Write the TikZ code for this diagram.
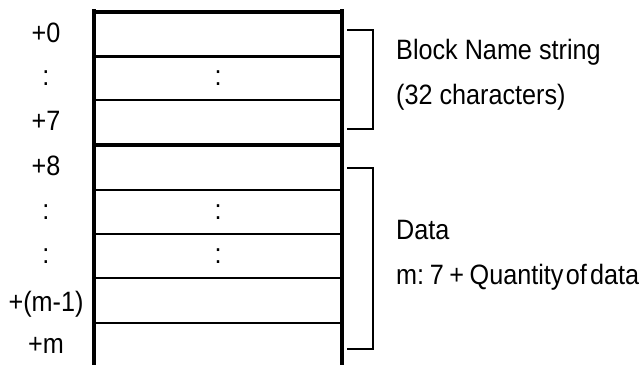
\documentclass[tikz,border=0pt]{standalone}
\usepackage{fontspec}
\setmainfont{Liberation Sans}[FakeStretch=0.9]
\begin{document}
\begin{tikzpicture}[x=1pt,y=-1pt,
  lbl/.style={font=\fontsize{28}{32}\selectfont, inner sep=0pt},
  rowline/.style={line width=#1},
  frame/.style={line width=4pt},
  brack/.style={line width=1.2pt}]
\useasboundingbox (0,0) rectangle (640,365);
% table frame
\coordinate (tl) at (94,9);
\coordinate (bl) at (94,365);
\coordinate (tr) at (342,9);
\coordinate (br) at (342,365);
\draw[frame] (tl) -- (bl);
\draw[frame] (tr) -- (br);
% row boundaries
\foreach \y/\w/\n in {12/4pt/r0, 56/3pt/r1, 100/2pt/r2, 145/4pt/r3, 190/2.6pt/r4, 234/2.6pt/r5, 278/2.6pt/r6, 323/2.4pt/r7}{
  \coordinate (\n w) at (94,\y);
  \coordinate (\n e) at (342,\y);
  \draw[rowline=\w] (\n w) -- (\n e);
}
% offset labels
\foreach \t/\y/\n in {+0/42/l0, +7/130/l2, +8/175/l3, +(m-1)/311/l6, +m/353/l7}{
  \node[lbl, anchor=base] (\n) at (46,\y) {\t};
}
\foreach \y/\n in {85/l1, 219/l4, 263/l5}{
  \node[lbl, anchor=base] (\n) at (46,\y) {:};
}
% dots inside cells
\foreach \y/\n in {85/c1, 219/c4, 263/c5}{
  \node[lbl, anchor=base] (\n) at (218,\y) {:};
}
% brackets
\coordinate (b1a) at (347,30);
\coordinate (b1b) at (373,30);
\coordinate (b1c) at (373,129);
\coordinate (b1d) at (347,129);
\draw[brack] (b1a) -- (b1b) -- (b1c) -- (b1d);
\coordinate (b2a) at (347,168);
\coordinate (b2b) at (373,168);
\coordinate (b2c) at (373,349);
\coordinate (b2d) at (347,349);
\draw[brack] (b2a) -- (b2b) -- (b2c) -- (b2d);
% descriptions
\node[lbl, anchor=base west] (t1) at (396,59) {Block Name string};
\node[lbl, anchor=base west] (t2) at (396,104) {(32 characters)};
\node[lbl, anchor=base west] (t3) at (396,239) {Data};
\node[lbl, anchor=base west] (t4) at (396,284) {m:\hspace{0.2em}7\hspace{0.2em}+\hspace{0.2em}Quantity\hspace{0.08em}of\hspace{0.12em}data};
\end{tikzpicture}
\end{document}
